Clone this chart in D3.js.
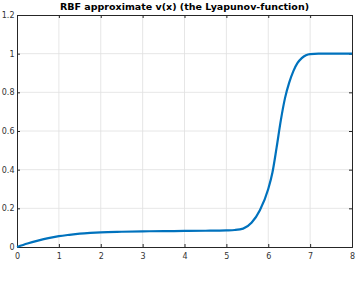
<!DOCTYPE html>
<meta charset="utf-8">
<script src="https://d3js.org/d3.v7.min.js"></script>
<style>
body { margin: 0; background: #fff; }
text { font-family: "DejaVu Sans", sans-serif; }
.axis text { fill: #333; font-size: 8px; }
.axis path, .axis line { stroke: #262626; }
</style>
<div id="chart"></div>
<script>
// values
var xs = [0, 0.25, 0.5, 0.75, 1, 1.25, 1.5, 1.75, 2, 2.5, 3, 3.5, 4, 4.5, 5, 5.2, 5.4, 5.6, 5.8, 6, 6.1, 6.2, 6.3, 6.4, 6.5, 6.6, 6.7, 6.8, 6.9, 7, 7.2, 8];
var vs = [0, 0.018, 0.033, 0.046, 0.056, 0.063, 0.069, 0.073, 0.076, 0.079, 0.081, 0.082, 0.083, 0.084, 0.086, 0.088, 0.095, 0.125, 0.19, 0.30, 0.385, 0.515, 0.655, 0.77, 0.85, 0.91, 0.952, 0.977, 0.992, 0.998, 1.0, 1.0];
var xTicks = [0, 1, 2, 3, 4, 5, 6, 7, 8];
var yTicks = [0, 0.2, 0.4, 0.6, 0.8, 1, 1.2];

var margin = { top: 15, left: 17, bottom: 38, right: 5 };
var width = 357 - margin.left - margin.right;
var height = 285 - margin.top - margin.bottom;

var x = d3.scaleLinear().domain([0, 8]).range([0, width]);
var y = d3.scaleLinear().domain([0, 1.2]).range([height, 0]);

var svg = d3.select("#chart").append("svg")
    .attr("width", 357)
    .attr("height", 285);

var g = svg.append("g")
    .attr("transform", "translate(" + margin.left + "," + margin.top + ")");

// grid
g.append("g").selectAll("line").data(xTicks.slice(1, -1)).enter().append("line")
    .attr("x1", x).attr("x2", x).attr("y1", 0).attr("y2", height)
    .attr("stroke", "#e0e0e0").attr("stroke-width", 0.8);
g.append("g").selectAll("line").data(yTicks.slice(1, -1)).enter().append("line")
    .attr("y1", y).attr("y2", y).attr("x1", 0).attr("x2", width)
    .attr("stroke", "#e0e0e0").attr("stroke-width", 0.8);

// axes with inward ticks
g.append("g")
    .attr("class", "axis")
    .attr("transform", "translate(0," + height + ")")
    .call(d3.axisBottom(x).tickValues(xTicks).tickSize(-3).tickPadding(6).tickFormat(d3.format("d")));
g.append("g")
    .attr("class", "axis")
    .call(d3.axisLeft(y).tickValues(yTicks).tickSize(-3).tickPadding(2.5).tickFormat(function(d) { return d3.format("")(d); }));
g.append("g")
    .attr("class", "axis")
    .call(d3.axisTop(x).tickValues(xTicks).tickSize(-3).tickFormat(""));
g.append("g")
    .attr("class", "axis")
    .attr("transform", "translate(" + width + ",0)")
    .call(d3.axisRight(y).tickValues(yTicks).tickSize(-3).tickFormat(""));

// curve
var line = d3.line()
    .x(function(d, i) { return x(xs[i]); })
    .y(function(d) { return y(d); })
    .curve(d3.curveMonotoneX);

g.append("path")
    .datum(vs)
    .attr("fill", "none")
    .attr("stroke", "#0072BD")
    .attr("stroke-width", 2.2)
    .attr("d", line);

// title
svg.append("text")
    .attr("x", margin.left + width / 2)
    .attr("y", 10)
    .attr("text-anchor", "middle")
    .attr("font-size", "9.5px")
    .attr("font-weight", "bold")
    .attr("fill", "#000")
    .text("RBF approximate v(x) (the Lyapunov-function)");
</script>
